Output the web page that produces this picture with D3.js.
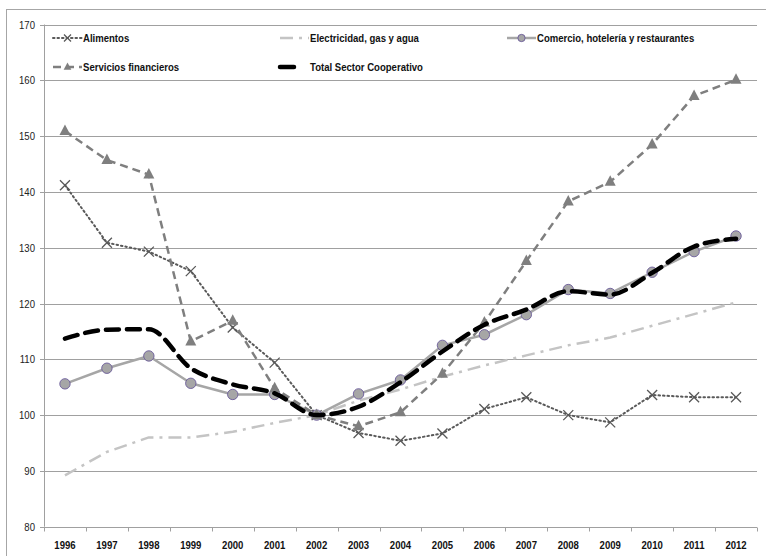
<!DOCTYPE html>
<html>
<head>
<meta charset="utf-8">
<script src="https://cdn.jsdelivr.net/npm/d3@7"></script>
<style>
  html, body { margin: 0; padding: 0; background: #fff; }
  svg { display: block; }
  text { font-family: "Liberation Sans", Arial, sans-serif; }
</style>
</head>
<body>
<svg id="chart" width="766" height="556"></svg>
<script>
// Índices por rama de actividad (2002 = 100)
const years = ["1996","1997","1998","1999","2000","2001","2002","2003","2004","2005","2006","2007","2008","2009","2010","2011","2012"];
const alimentos     = [141.2,130.9,129.3,125.8,115.7,109.4,100.0, 96.8, 95.4, 96.7,101.1,103.2,100.0, 98.7,103.6,103.2,103.2];
const electricidad  = [ 89.2, 93.4, 96.0, 96.0, 97.0, 98.6,100.0,102.6,104.6,106.9,108.9,110.7,112.5,113.9,116.0,118.1,120.2];
const comercio      = [105.6,108.4,110.6,105.7,103.7,103.7,100.0,103.8,106.3,112.5,114.4,118.0,122.5,121.8,125.6,129.3,132.1];
const financieros   = [150.9,145.7,143.1,113.2,116.9,104.8,100.0, 98.0,100.5,107.4,116.6,127.6,138.3,141.8,148.5,157.2,160.1];
const total         = [113.7,115.3,115.4,108.4,105.5,103.9,100.0,101.5,105.9,111.4,116.2,118.9,122.2,121.6,125.5,130.2,131.6];
const yTicks = [80,90,100,110,120,130,140,150,160,170];

const svg = d3.select("#chart");
const L = 44, R = 757, T = 24.5, B = 526.7;
const NARROW = 0.87; // horizontal squeeze for a condensed look

const xb = d3.scaleBand().domain(years).range([L, R]).padding(0);
const x = d => xb(d) + xb.bandwidth() / 2;
const y = d3.scaleLinear().domain([80, 170]).range([B, T]);
const py = v => Math.round(y(v)) + 0.5;

// condensed text helper: anchor at (tx, ty), squeezed horizontally
function label(parent, tx, ty, str, opts) {
  return parent.append("text")
    .attr("transform", `translate(${tx},${ty}) scale(${NARROW},1)`)
    .attr("text-anchor", opts.anchor || "start")
    .attr("dy", "0.35em")
    .attr("font-size", opts.size || 11)
    .attr("font-weight", opts.bold ? "bold" : "normal")
    .attr("fill", opts.fill || "#111")
    .text(str);
}

// outer frame
svg.append("rect").attr("x", 6.5).attr("y", 9.5).attr("width", 780).attr("height", 560)
  .attr("fill", "none").attr("stroke", "#a6a6a6").attr("stroke-width", 1);

// horizontal gridlines
svg.append("g").selectAll("line").data(yTicks.slice(1)).join("line")
  .attr("x1", L).attr("x2", R)
  .attr("y1", d => py(d)).attr("y2", d => py(d))
  .attr("stroke", "#a0a0a0").attr("stroke-width", 1);

// y axis
const yAxis = svg.append("g");
yAxis.append("line").attr("x1", L + 0.5).attr("x2", L + 0.5).attr("y1", T).attr("y2", B)
  .attr("stroke", "#a0a0a0");
yTicks.forEach(t => {
  yAxis.append("line").attr("x1", L - 4).attr("x2", L + 0.5).attr("y1", py(t)).attr("y2", py(t))
    .attr("stroke", "#a0a0a0");
  label(yAxis, L - 9, py(t), d3.format("d")(t), { anchor: "end", fill: "#222" });
});

// x axis: labels centred on categories, tick marks between them
const xAxis = svg.append("g");
const axisY = Math.round(B) + 0.5;
xAxis.append("line").attr("x1", L).attr("x2", R).attr("y1", axisY).attr("y2", axisY).attr("stroke", "#a0a0a0");
const bounds = years.map(d => xb(d)).concat([R]);
xAxis.selectAll("line.tk").data(bounds).join("line").attr("class", "tk")
  .attr("x1", d => Math.round(d) + 0.5).attr("x2", d => Math.round(d) + 0.5)
  .attr("y1", axisY).attr("y2", axisY + 4).attr("stroke", "#a0a0a0");
years.forEach(d => label(xAxis, x(d), axisY + 18, d, { anchor: "middle", bold: true }));

// series definitions
const series = [
  { name: "Alimentos", values: alimentos, color: "#595959", width: 2, dash: "1.5,3", cap: "round", marker: "x", curve: d3.curveLinear },
  { name: "Electricidad, gas y agua", values: electricidad, color: "#c4c4c4", width: 2.5, dash: "13,6,3,6", cap: "butt", marker: null, curve: d3.curveLinear },
  { name: "Comercio, hotelería y restaurantes", values: comercio, color: "#a6a6a6", width: 2.5, dash: null, cap: "butt", marker: "circle", curve: d3.curveLinear },
  { name: "Servicios financieros", values: financieros, color: "#7f7f7f", width: 2.5, dash: "8,5", cap: "butt", marker: "triangle", curve: d3.curveLinear },
  { name: "Total Sector Cooperativo", values: total, color: "#000000", width: 4.5, dash: "13,8", cap: "round", marker: null, curve: d3.curveMonotoneX }
];

function drawMarker(g, type, cx, cy, s) {
  if (type === "x") {
    const r = 5 * s;
    g.append("path").attr("d", `M${cx - r},${cy - r}L${cx + r},${cy + r}M${cx - r},${cy + r}L${cx + r},${cy - r}`)
      .attr("stroke", "#595959").attr("stroke-width", 1.3).attr("fill", "none");
  } else if (type === "circle") {
    g.append("circle").attr("cx", cx).attr("cy", cy).attr("r", 5.2 * s)
      .attr("fill", "#a6a6a6").attr("stroke", "#6a5a9a").attr("stroke-width", 0.9);
  } else if (type === "triangle") {
    g.append("path").attr("d", `M${cx},${cy - 6.5 * s}L${cx + 5.5 * s},${cy + 4 * s}L${cx - 5.5 * s},${cy + 4 * s}Z`)
      .attr("fill", "#7f7f7f");
  }
}

const plot = svg.append("g");
series.forEach(s => {
  const line = d3.line().x((d, i) => x(years[i])).y(d => y(d)).curve(s.curve);
  const g = plot.append("g");
  g.append("path").attr("d", line(s.values))
    .attr("fill", "none").attr("stroke", s.color).attr("stroke-width", s.width)
    .attr("stroke-dasharray", s.dash).attr("stroke-linecap", s.cap).attr("stroke-linejoin", "round");
  if (s.marker) s.values.forEach((v, i) => drawMarker(g, s.marker, x(years[i]), y(v), 1));
});

// legend
const legendPos = [
  { x: 53, y: 38 }, { x: 280, y: 38 }, { x: 507, y: 38 },
  { x: 53, y: 67 }, { x: 280, y: 67 }
];
series.forEach((s, i) => {
  const p = legendPos[i];
  const g = svg.append("g");
  const isTotal = s.name === "Total Sector Cooperativo";
  const x1 = p.x, x2 = isTotal ? p.x + 14 : p.x + 29;
  g.append("line").attr("x1", x1).attr("x2", x2).attr("y1", p.y).attr("y2", p.y)
    .attr("stroke", s.color).attr("stroke-width", s.width)
    .attr("stroke-dasharray", isTotal ? null : s.dash)
    .attr("stroke-linecap", s.cap);
  if (s.marker) drawMarker(g, s.marker, p.x + 14.5, p.y, 0.7);
  label(g, p.x + 30, p.y, s.name, { bold: true });
});
</script>
</body>
</html>
